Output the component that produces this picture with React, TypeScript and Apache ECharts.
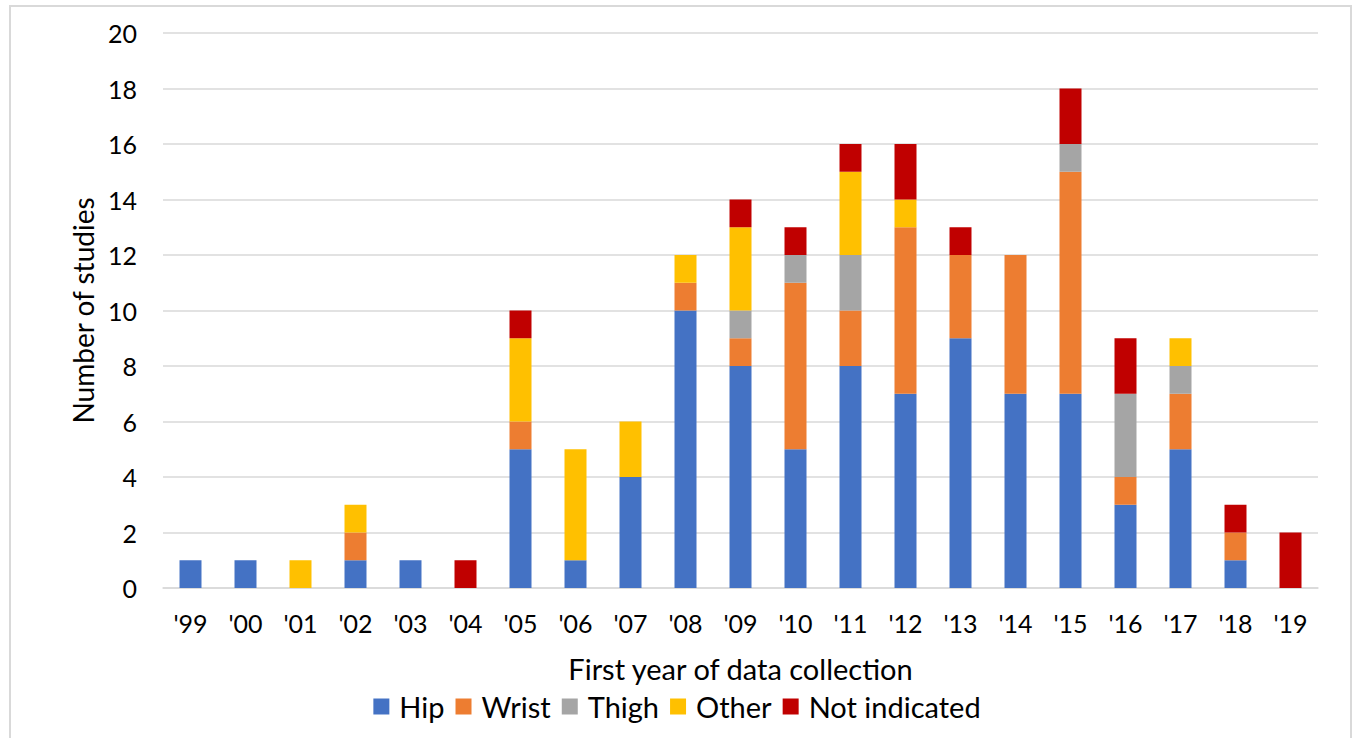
import React, { useEffect, useRef } from "react";
import * as echarts from "echarts";

const categories = ["'99", "'00", "'01", "'02", "'03", "'04", "'05", "'06", "'07", "'08", "'09", "'10", "'11", "'12", "'13", "'14", "'15", "'16", "'17", "'18", "'19"];
const hip = [1, 1, 0, 1, 1, 0, 5, 1, 4, 10, 8, 5, 8, 7, 9, 7, 7, 3, 5, 1, 0];
const wrist = [0, 0, 0, 1, 0, 0, 1, 0, 0, 1, 1, 6, 2, 6, 3, 5, 8, 1, 2, 1, 0];
const thigh = [0, 0, 0, 0, 0, 0, 0, 0, 0, 0, 1, 1, 2, 0, 0, 0, 1, 3, 1, 0, 0];
const other = [0, 0, 1, 1, 0, 0, 3, 4, 2, 1, 3, 0, 3, 1, 0, 0, 0, 0, 1, 0, 0];
const notIndicated = [0, 0, 0, 0, 0, 1, 1, 0, 0, 0, 1, 1, 1, 2, 1, 0, 2, 2, 0, 1, 2];

const seriesDefs = [
  { name: "Hip", data: hip, color: "#4472C4" },
  { name: "Wrist", data: wrist, color: "#ED7D31" },
  { name: "Thigh", data: thigh, color: "#A5A5A5" },
  { name: "Other", data: other, color: "#FFC000" },
  { name: "Not indicated", data: notIndicated, color: "#C00000" },
];

const FONT = "Lato, 'Open Sans', sans-serif";

export default function App() {
  const ref = useRef<HTMLDivElement>(null);
  useEffect(() => {
    if (!ref.current) return;
    const chart = echarts.init(ref.current, null, { renderer: "svg" });
    chart.setOption({
      animation: false,
      backgroundColor: "#fff",
      textStyle: { fontFamily: FONT },
      graphic: [
        {
          type: "rect",
          shape: { x: 10, y: 6, width: 1341, height: 740 },
          style: { fill: "none", stroke: "#d9d9d9", lineWidth: 2 },
          silent: true,
        },
      ],
      grid: { left: 163, right: 36, top: 33, bottom: 150 },
      legend: {
        bottom: 12,
        left: "center",
        itemWidth: 16,
        itemHeight: 16,
        itemGap: 11,
        icon: "rect",
        textStyle: { fontSize: 29, color: "#000", fontFamily: FONT, padding: [0, 0, 0, 5] },
        data: seriesDefs.map((s) => s.name),
      },
      xAxis: {
        type: "category",
        data: categories,
        name: "First year of data collection",
        nameLocation: "middle",
        nameGap: 66,
        nameTextStyle: { fontSize: 29, color: "#000", fontFamily: FONT },
        axisLine: { lineStyle: { color: "#d9d9d9", width: 1.5 } },
        axisTick: { show: false },
        axisLabel: { fontSize: 25, color: "#000", margin: 22, fontFamily: FONT },
      },
      yAxis: {
        type: "value",
        min: 0,
        max: 20,
        interval: 2,
        name: "Number of studies",
        nameLocation: "middle",
        nameGap: 66,
        nameTextStyle: { fontSize: 28, color: "#000", fontFamily: FONT },
        axisLine: { show: false },
        axisTick: { show: false },
        splitLine: { lineStyle: { color: "#d9d9d9", width: 1.5 } },
        axisLabel: { fontSize: 25, color: "#000", margin: 26, fontFamily: FONT },
      },
      series: seriesDefs.map((s) => ({
        name: s.name,
        type: "bar",
        stack: "total",
        barWidth: 22,
        data: s.data.map((v) => (v === 0 ? null : v)),
        itemStyle: { color: s.color },
      })),
    });
    return () => chart.dispose();
  }, []);
  return (
    <div
      ref={ref}
      style={{ position: "absolute", left: 0, top: 0, width: 1354, height: 738 }}
    />
  );
}
